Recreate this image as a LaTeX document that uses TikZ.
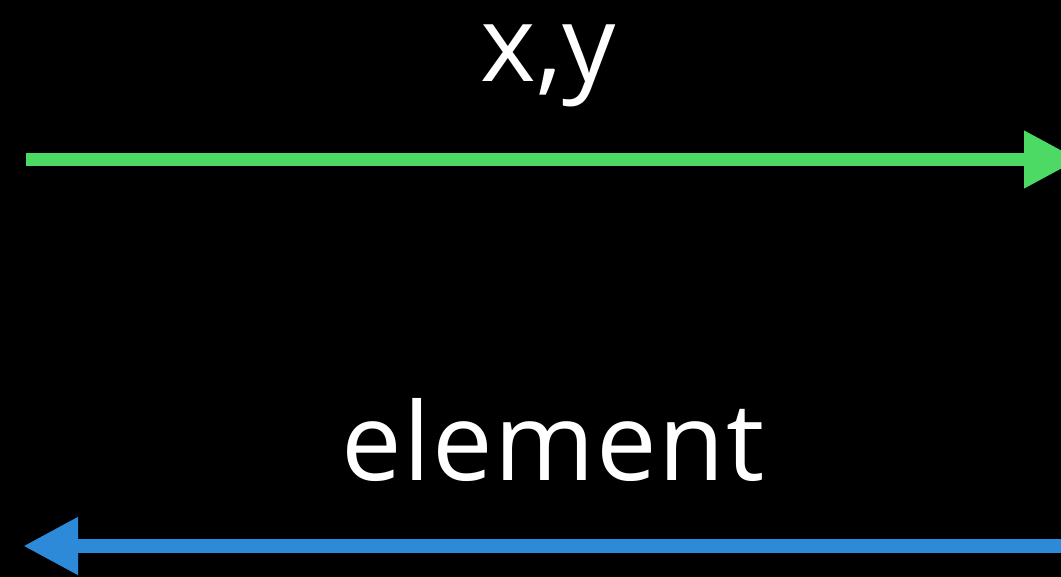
\documentclass[tikz,border=0pt]{standalone}
\usepackage{fontspec}
\setmainfont{Open Sans}
\usetikzlibrary{arrows.meta}
\definecolor{arrgreen}{RGB}{76,217,100}
\definecolor{arrblue}{RGB}{44,138,216}
\tikzset{
  conn/.style={line width=13.5pt, -{Triangle[length=55pt,width=54pt]}},
  lbl/.style={text=white, inner sep=0pt, anchor=base}
}
\begin{document}
\begin{tikzpicture}[x=1pt,y=-1pt]
\useasboundingbox (0,0) rectangle (1061,577);
\fill[black] (0,0) rectangle (1061,577);
\clip (0,0) rectangle (1061,577);
\coordinate (gs) at (26,159.5);
\coordinate (ge) at (1079,159.5);
\coordinate (bs) at (1080,546);
\coordinate (be) at (23,546);
\draw[conn, arrgreen] (gs) -- (ge);
\draw[conn, arrblue] (bs) -- (be);
\node[lbl] (xy) at (548,82) {\fontsize{106}{106}\selectfont x,y};
\node[lbl] (el) at (553,480) {\fontsize{108}{108}\selectfont\addfontfeature{LetterSpace=1.5}element};
\end{tikzpicture}
\end{document}
